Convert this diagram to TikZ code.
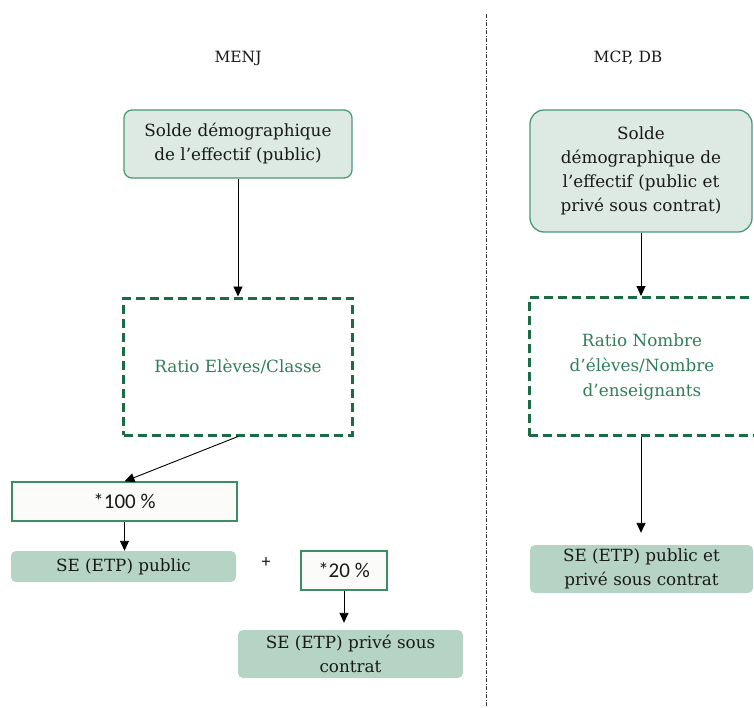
\documentclass[tikz,border=0pt]{standalone}
\usepackage{fontspec}
\setmainfont{DejaVu Serif}
\newfontfamily\pcfont{Carlito}
\usetikzlibrary{arrows.meta}
\definecolor{boxfill}{HTML}{DCEAE3}
\definecolor{boxline}{HTML}{4A9A76}
\definecolor{sefill}{HTML}{B6D4C6}
\definecolor{dashgreen}{HTML}{1B6B45}
\definecolor{ratiotext}{HTML}{2E7E5A}
\definecolor{pcfill}{HTML}{FBFBF9}
\definecolor{pcline}{HTML}{3C8C66}
\tikzset{
  lbl/.style={font=\fontsize{15.5}{18}\selectfont, text=black!90},
  topbox/.style={draw=boxline, line width=1.3pt, fill=boxfill, rounded corners=8pt, align=center, font=\fontsize{16.8}{24}\selectfont, text=black!90, inner sep=0pt},
  ratiobox/.style={draw=dashgreen, line width=3pt, dash pattern=on 9pt off 5pt, align=center, font=\fontsize{16.8}{25}\selectfont, text=ratiotext, inner sep=0pt},
  pcbox/.style={draw=pcline, line width=1.2pt, fill=pcfill, font=\pcfont\fontsize{21}{24}\selectfont, text=black!90, inner sep=0pt},
  sebox/.style={fill=sefill, rounded corners=5pt, align=center, font=\fontsize{16.8}{24}\selectfont, text=black!90, inner sep=0pt},
  arr/.style={line width=0.9pt, -{Triangle[length=10pt,width=9pt]}},
  sepline/.style={line width=0.9pt, black!80, dash pattern=on 4pt off 1.6pt on 0.8pt off 1.6pt}
}
\begin{document}
\begin{tikzpicture}[x=1pt,y=-1pt]
\useasboundingbox (0,0) rectangle (754,707);
\clip (0,0) rectangle (754,707);

% separator
\coordinate (septop) at (486,14);
\coordinate (sepbot) at (486,707);
\draw[sepline] (septop) -- (sepbot);

% headings
\node[lbl] (menj) at (238,58) {MENJ};
\node[lbl] (mcp) at (628,58) {MCP, DB};

% left column
\node[topbox, minimum width=228pt, minimum height=68pt] (soldeL) at (238,144)
  {Solde démographique\\de l’effectif (public)};
\node[ratiobox, minimum width=229pt, minimum height=137pt] (ratioL) at (238,366.5)
  {Ratio Elèves/Classe};
\node[pcbox, minimum width=225pt, minimum height=39pt] (pc100) at (124.5,501.5) {*100 \%};
\node[sebox, minimum width=225pt, minimum height=31pt] (sepub) at (123.5,566.5) {SE (ETP) public};
\node[font=\pcfont\fontsize{18}{20}\selectfont, text=black!90] (plus) at (266,563) {+};
\node[pcbox, minimum width=86pt, minimum height=39pt] (pc20) at (344,570.5) {*20 \%};
\node[sebox, minimum width=225pt, minimum height=48pt] (sepriv) at (350.5,654)
  {SE (ETP) privé sous\\contrat};

\draw[arr] (soldeL.south) -- (ratioL.north);
\draw[arr] (ratioL.south) -- (pc100.north);
\draw[arr] (pc100.south) -- (pc100.south |- sepub.north);
\draw[arr, shorten >=7pt] (pc20.south) -- (pc20.south |- sepriv.north);

% right column
\node[topbox, rounded corners=14pt, minimum width=222pt, minimum height=122pt] (soldeR) at (641,171)
  {Solde\\démographique de\\l’effectif (public et\\privé sous contrat)};
\node[ratiobox, minimum width=230pt, minimum height=138pt] (ratioR) at (644,366.5)
  {\hspace*{-4pt}Ratio Nombre\\\hspace*{-4pt}d’élèves/Nombre\\\hspace*{-4pt}d’enseignants};
\node[sebox, minimum width=223pt, minimum height=48pt] (seR) at (641.5,569)
  {SE (ETP) public et\\privé sous contrat};

\draw[arr] (soldeR.south) -- (soldeR.south |- ratioR.north);
\draw[arr, shorten >=12pt] (soldeR.south |- ratioR.south) -- (soldeR.south |- seR.north);
\end{tikzpicture}
\end{document}
